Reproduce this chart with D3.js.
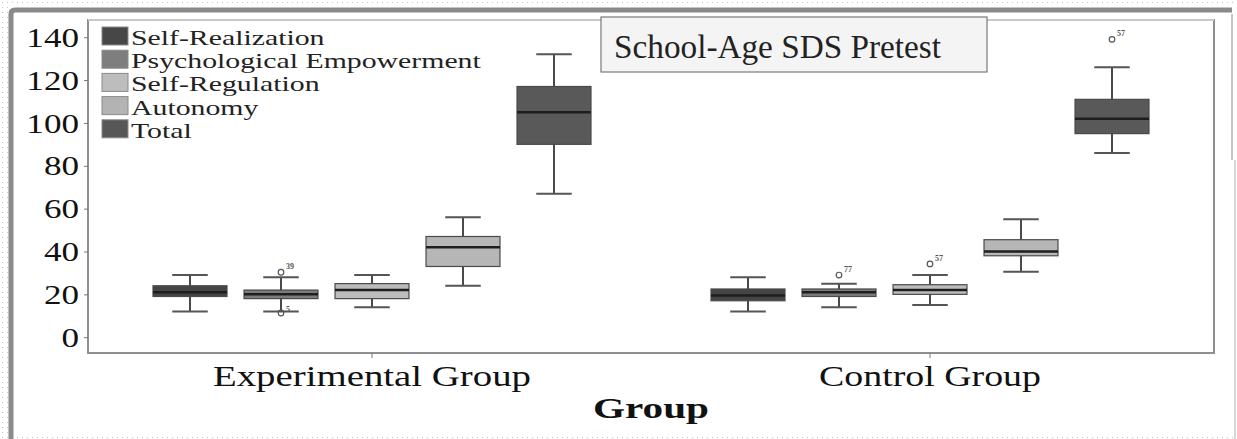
<!DOCTYPE html>
<html>
<head>
<meta charset="utf-8">
<script src="https://cdn.jsdelivr.net/npm/d3@7"></script>
<style>
  html, body { margin: 0; padding: 0; background: #fff; }
  svg { display: block; }
</style>
</head>
<body>
<svg id="chart" width="1237" height="439"></svg>
<script>
// ---------------- data ----------------
const groups = ["Experimental Group", "Control Group"];
const series = ["Self-Realization", "Psychological Empowerment", "Self-Regulation", "Autonomy", "Total"];
const yTicks = [0, 20, 40, 60, 80, 100, 120, 140];

const expMin    = [12, 12, 14, 24, 67];
const expQ1     = [19, 18, 18, 33, 90];
const expMedian = [21, 20, 22, 42, 105];
const expQ3     = [24, 22, 25, 47, 117];
const expMax    = [29, 28, 29, 56, 132];

const ctrlMin    = [12, 14, 15, 30.5, 86];
const ctrlQ1     = [17, 19, 20, 38, 95];
const ctrlMedian = [19.5, 21, 22, 40, 102];
const ctrlQ3     = [22.5, 22.5, 24.5, 45.5, 111];
const ctrlMax    = [28, 25, 29, 55, 126];

const outlierGroup  = ["Experimental Group", "Experimental Group", "Control Group", "Control Group", "Control Group"];
const outlierSeries = ["Psychological Empowerment", "Psychological Empowerment", "Psychological Empowerment", "Self-Regulation", "Total"];
const outlierValue  = [30.3, 11.3, 29, 34.2, 139];
const outlierLabel  = ["39", "5", "77", "57", "57"];

const title = "School-Age SDS Pretest";
const xTitle = "Group";

// ---------------- styles ----------------
const fills = ["#454545", "#7c7c7c", "#bcbcbc", "#b6b6b6", "#595959"];
const swatchFills = ["#474747", "#7e7e7e", "#bdbdbd", "#b3b3b3", "#575757"];

// ---------------- build rows ----------------
const stats = {
  "Experimental Group": {min: expMin, q1: expQ1, med: expMedian, q3: expQ3, max: expMax},
  "Control Group": {min: ctrlMin, q1: ctrlQ1, med: ctrlMedian, q3: ctrlQ3, max: ctrlMax}
};
const rows = [];
groups.forEach(g => series.forEach((s, i) => rows.push({
  group: g, series: s, idx: i,
  min: stats[g].min[i], q1: stats[g].q1[i], med: stats[g].med[i], q3: stats[g].q3[i], max: stats[g].max[i]
})));
const outliers = outlierValue.map((v, i) => ({group: outlierGroup[i], series: outlierSeries[i], value: v, label: outlierLabel[i]}));

// ---------------- layout ----------------
const svg = d3.select("#chart");
const W = 1237, H = 439;
const plot = {left: 88, right: 1214, top: 20, bottom: 353};
const serif = "'Liberation Serif', 'Times New Roman', serif";

// dotted background border
const defs = svg.append("defs");
const pat = defs.append("pattern").attr("id", "dots").attr("width", 5).attr("height", 5).attr("patternUnits", "userSpaceOnUse");
pat.append("rect").attr("width", 5).attr("height", 5).attr("fill", "#fff");
pat.append("rect").attr("x", 2).attr("y", 2).attr("width", 1).attr("height", 1).attr("fill", "#c4c4c4");
svg.append("rect").attr("width", W).attr("height", H).attr("fill", "url(#dots)");
svg.append("rect").attr("x", 8).attr("y", 7).attr("width", 1226).attr("height", 426).attr("fill", "#fff");

// slide frame
svg.append("path")
  .attr("d", `M11,${H} L11,14 Q11,10 15,10 L1232,10`)
  .attr("fill", "none").attr("stroke", "#8a8a8a").attr("stroke-width", 5);
svg.append("line").attr("x1", 1232).attr("x2", 1232).attr("y1", 14).attr("y2", 160)
  .attr("stroke", "#b0b0b0").attr("stroke-width", 1.5);
svg.append("line").attr("x1", 1235).attr("x2", 1235).attr("y1", 160).attr("y2", H)
  .attr("stroke", "#c8c8c8").attr("stroke-width", 1.5);

// scales
const y = d3.scaleLinear().domain([0, 140]).range([337.2, 37.2]);
const x0 = d3.scaleBand().domain(groups).range([plot.left + 5, plot.right - 5]).padding(0);
const span = 455;
const x1 = d3.scaleBand().domain(series).range([-span / 2, span / 2]).paddingInner(0.187).paddingOuter(0.0935);
const cx = d => x0(d.group) + x0.bandwidth() / 2 + x1(d.series) + x1.bandwidth() / 2;
const bw = x1.bandwidth();

// plot frame
svg.append("rect")
  .attr("x", plot.left).attr("y", plot.top)
  .attr("width", plot.right - plot.left).attr("height", plot.bottom - plot.top)
  .attr("fill", "#fff").attr("stroke", "#8f8f8f").attr("stroke-width", 2);
svg.append("line").attr("x1", plot.left).attr("x2", plot.right).attr("y1", plot.top).attr("y2", plot.top)
  .attr("stroke", "#c8c8c8").attr("stroke-width", 2);

// y axis
const yAxis = svg.append("g").attr("transform", `translate(${plot.left},0)`)
  .call(d3.axisLeft(y).tickValues(yTicks).tickSize(4).tickPadding(6));
yAxis.select(".domain").remove();
yAxis.selectAll(".tick line").attr("stroke", "#777");
yAxis.selectAll(".tick text")
  .attr("font-family", serif).attr("font-size", 27).attr("fill", "#111")
  .attr("dy", "0.34em").attr("x", 0)
  .attr("transform", "translate(-9,0) scale(1.3,1)");

// x axis
const xAxis = svg.append("g").attr("transform", `translate(0,${plot.bottom})`)
  .call(d3.axisBottom(x0).tickSize(5).tickSizeOuter(0).tickFormat(""));
xAxis.select(".domain").remove();
xAxis.selectAll(".tick line").attr("stroke", "#777");

const xLabelWidths = {"Experimental Group": 318, "Control Group": 222};
svg.append("g").selectAll("text").data(groups).join("text")
  .attr("x", g => x0(g) + x0.bandwidth() / 2).attr("y", 386)
  .attr("text-anchor", "middle")
  .attr("font-family", serif).attr("font-size", 29).attr("fill", "#111")
  .attr("textLength", g => xLabelWidths[g]).attr("lengthAdjust", "spacingAndGlyphs")
  .text(g => g);

svg.append("text")
  .attr("x", (plot.left + plot.right) / 2).attr("y", 418)
  .attr("text-anchor", "middle")
  .attr("font-family", serif).attr("font-size", 30).attr("font-weight", "bold").attr("fill", "#111")
  .attr("textLength", 116).attr("lengthAdjust", "spacingAndGlyphs")
  .text(xTitle);

// boxes
const boxes = svg.append("g").selectAll("g").data(rows).join("g");
boxes.append("line")
  .attr("x1", cx).attr("x2", cx).attr("y1", d => y(d.max)).attr("y2", d => y(d.min))
  .attr("stroke", "#4a4a4a").attr("stroke-width", 2);
boxes.append("line")
  .attr("x1", d => cx(d) - bw * 0.24).attr("x2", d => cx(d) + bw * 0.24)
  .attr("y1", d => y(d.max)).attr("y2", d => y(d.max))
  .attr("stroke", "#555").attr("stroke-width", 2);
boxes.append("line")
  .attr("x1", d => cx(d) - bw * 0.24).attr("x2", d => cx(d) + bw * 0.24)
  .attr("y1", d => y(d.min)).attr("y2", d => y(d.min))
  .attr("stroke", "#555").attr("stroke-width", 2);
boxes.append("rect")
  .attr("x", d => cx(d) - bw / 2).attr("width", bw)
  .attr("y", d => y(d.q3)).attr("height", d => y(d.q1) - y(d.q3))
  .attr("fill", d => fills[d.idx]).attr("stroke", "#4a4a4a").attr("stroke-width", 1.2);
boxes.append("line")
  .attr("x1", d => cx(d) - bw / 2).attr("x2", d => cx(d) + bw / 2)
  .attr("y1", d => y(d.med)).attr("y2", d => y(d.med))
  .attr("stroke", "#1e1e1e").attr("stroke-width", 2.5);

// outliers
const outs = svg.append("g").selectAll("g").data(outliers).join("g");
outs.append("circle")
  .attr("cx", cx).attr("cy", d => y(d.value)).attr("r", 2.8)
  .attr("fill", "none").attr("stroke", "#555").attr("stroke-width", 1.2);
outs.append("text")
  .attr("x", d => cx(d) + 5).attr("y", d => y(d.value) - (d.value < 12 ? 1 : 3))
  .attr("font-family", serif).attr("font-size", 8).attr("font-weight", "bold").attr("fill", "#555")
  .text(d => d.label);

// legend
const legend = svg.append("g").attr("transform", "translate(102,27)");
const li = legend.selectAll("g").data(series).join("g")
  .attr("transform", (d, i) => `translate(0,${i * 23.2})`);
li.append("rect").attr("width", 26).attr("height", 18)
  .attr("fill", (d, i) => swatchFills[i]).attr("stroke", "#8a8a8a").attr("stroke-width", 1);
li.append("text")
  .attr("x", 0).attr("y", 18)
  .attr("transform", "translate(29,0) scale(1.354,1)")
  .attr("font-family", serif).attr("font-size", 22).attr("fill", "#222")
  .text(d => d);

// title box
svg.append("rect").attr("x", 601).attr("y", 17).attr("width", 386).attr("height", 55)
  .attr("fill", "#f4f4f4").attr("stroke", "#7a7a7a").attr("stroke-width", 1.2);
svg.append("text").attr("x", 614).attr("y", 58)
  .attr("font-family", serif).attr("font-size", 34).attr("fill", "#222")
  .attr("textLength", 327).attr("lengthAdjust", "spacingAndGlyphs")
  .text(title);
</script>
</body>
</html>
